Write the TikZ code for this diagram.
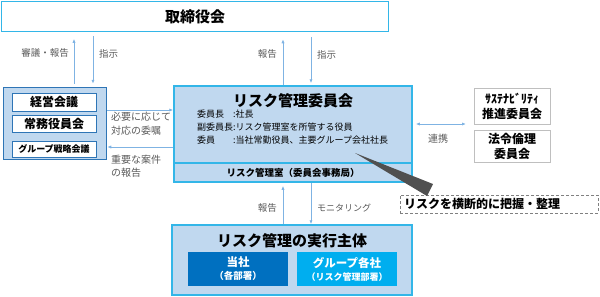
\documentclass[tikz,border=0pt]{standalone}
\usepackage{fontspec}
\setmainfont{Noto Sans CJK JP}
\usepackage{xcolor}
\usepackage{tikz}
\usetikzlibrary{arrows.meta}
\definecolor{cyanline}{HTML}{33B6E8}
\definecolor{blueline}{HTML}{2E75B6}
\definecolor{boxfill}{HTML}{C0D8EF}
\definecolor{arrowblue}{HTML}{7FB3E3}
\definecolor{labelgray}{HTML}{595959}
\definecolor{darkblue}{HTML}{0070C0}
\definecolor{skyblue}{HTML}{00AEEF}
\definecolor{wedgegray}{HTML}{505050}
\tikzset{
  panel/.style={draw=cyanline, line width=1.5pt, fill=boxfill, inner sep=0pt},
  subbox/.style={draw=blueline, line width=1pt, fill=white, inner sep=0pt, minimum width=84pt},
  sidebox/.style={draw=black!25, line width=0.8pt, fill=white, inner sep=0pt, align=center, minimum width=76pt, font=\fontsize{12}{15}\selectfont\bfseries},
  unitbox/.style={inner sep=0pt, text=white, align=center, minimum width=100pt, minimum height=34pt, font=\fontsize{11.5}{13}\selectfont\bfseries},
  flow/.style={draw=arrowblue, line width=0.8pt, ->},
  lbl/.style={text=labelgray, font=\fontsize{9.5}{14}\selectfont, inner sep=0pt, align=left},
  heading/.style={inner sep=0pt, font=\fontsize{15}{18}\selectfont\bfseries}
}

\begin{document}
\begin{tikzpicture}[x=1pt,y=-1pt,>={Latex[length=4pt,width=3.2pt]}]
\useasboundingbox (0,0) rectangle (600,297);
\node[panel, fill=white, minimum width=387pt, minimum height=30pt, font=\fontsize{15}{18}\selectfont\bfseries] (board) at (195,16.5) {取締役会};

\node[panel, draw=blueline, minimum width=103pt, minimum height=72pt] (mgmt) at (55,123.5) {};
\node[subbox, minimum height=18pt, font=\fontsize{12}{14}\selectfont\bfseries] (keiei) at (54,102) {経営会議};
\node[subbox, minimum height=17pt, font=\fontsize{12}{14}\selectfont\bfseries] (jomu) at (54,123.5) {常務役員会};
\node[subbox, minimum height=16pt, font=\fontsize{9}{11}\selectfont\bfseries] (senryaku) at (54,149) {グループ戦略会議};

\node[panel, minimum width=238pt, minimum height=77pt] (rmc) at (293,124.5) {};
\node[panel, minimum width=238pt, minimum height=19pt, font=\fontsize{9.5}{12}\selectfont\bfseries] (rmo) at (293,172.5) {リスク管理室（委員会事務局）};
\node[heading] (rmctitle) at (293,101) {リスク管理委員会};
\node[anchor=west, inner sep=0pt, font=\fontsize{9}{13}\selectfont] (members) at (197,128) {\begin{tabular}{@{}l@{}l@{}}委員長&:社長\\副委員長&:リスク管理室を所管する役員\\委員&:当社常勤役員、主要グループ会社社長\end{tabular}};

\node[sidebox, minimum height=36pt] (sust) at (512,106) {ｻｽﾃﾅﾋﾞﾘﾃｨ\\推進委員会};
\node[sidebox, minimum height=32pt] (hourei) at (512,146) {法令倫理\\委員会};

\node[panel, minimum width=240pt, minimum height=70pt] (exec) at (292,260) {};
\node[heading] (exectitle) at (292,241) {リスク管理の実行主体};
\node[unitbox, fill=darkblue] (tosha) at (238,269) {当社\\{\fontsize{9.5}{12}\selectfont （各部署）}};
\node[unitbox, fill=skyblue] (group) at (347,269) {グループ各社\\{\fontsize{9}{12}\selectfont （リスク管理部署）}};

\node[draw=black!50, dash pattern=on 3pt off 2pt, line width=0.8pt, text width=190pt, inner xsep=4pt, inner ysep=0pt, minimum height=18pt, align=left, font=\fontsize{12}{14}\selectfont\bfseries] (note) at (499,204) {リスクを横断的に把握・整理};

\coordinate (xa) at (74,0);
\coordinate (xb) at (93,0);
\coordinate (xc) at (283,0);
\coordinate (xd) at (311,0);
\coordinate (ya) at (0,110);
\coordinate (yb) at (0,147);
\coordinate (lk) at (466,124);

\draw[flow, shorten <=3pt, shorten >=6.5pt] (mgmt.north -| xa) -- (board.south -| xa);
\draw[flow, shorten <=4pt, shorten >=3pt] (board.south -| xb) -- (mgmt.north -| xb);
\draw[flow, shorten >=7pt] (rmc.north -| xc) -- (board.south -| xc);
\draw[flow, shorten <=5pt, shorten >=2pt] (board.south -| xd) -- (rmc.north -| xd);
\draw[flow] (mgmt.east |- ya) -- (rmc.west |- ya);
\draw[flow] (rmc.west |- yb) -- (mgmt.east |- yb);
\draw[flow, shorten >=3pt] (exec.north -| xc) -- (rmo.south -| xc);
\draw[flow] (rmo.south -| xd) -- (exec.north -| xd);
\draw[flow, <->, shorten <=3pt] (rmc.east |- lk) -- (lk);

\node[lbl, anchor=east] (lblup) at (69,53) {審議・報告};
\node[lbl, anchor=west] (lbldown) at (99,54) {指示};
\node[lbl, anchor=east] (lblrep) at (277,54) {報告};
\node[lbl, anchor=west] (lblins) at (317,55) {指示};
\node[lbl, anchor=west, font=\fontsize{10}{14}\selectfont] (lblask) at (111,124) {必要に応じて\\対応の委嘱};
\node[lbl, anchor=west, font=\fontsize{10}{13}\selectfont] (lblimp) at (111,166.5) {重要な案件\\の報告};
\node[lbl, anchor=east] (lblrep2) at (277,208) {報告};
\node[lbl, anchor=west, font=\fontsize{9}{12}\selectfont] (lblmon) at (317,208) {モニタリング};
\node[lbl, font=\fontsize{10}{12}\selectfont] (lbllink) at (438,139) {連携};

\fill[wedgegray] (355,153) -- (433,184) -- (427,196) -- cycle;
\end{tikzpicture}
\end{document}
